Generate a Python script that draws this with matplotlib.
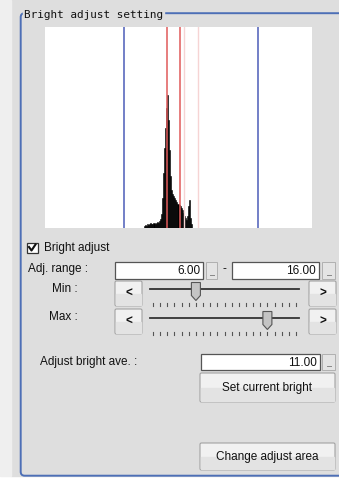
import matplotlib
matplotlib.use("Agg")
import matplotlib.pyplot as plt
from matplotlib.patches import Rectangle, FancyBboxPatch, Polygon

# histogram of brightness (0..255), bins 95..140
hist_start = 95
hist_counts = [2, 3, 2, 4, 3, 4, 5, 4, 4, 5, 4, 5, 6, 5, 7, 9, 14, 30, 55, 80,
               100, 120, 133, 108, 78, 52, 38, 34, 32, 30, 28, 26, 24, 23, 22, 20,
               18, 15, 12, 10, 8, 12, 22, 28, 10, 4]
blue_lines = [76, 204.5]
red_lines = [116.7, 129.4]
pink_lines = [133.6, 146.4]

title = "Bright adjust setting"
adj_min, adj_max = "6.00", "16.00"
bright_ave = "11.00"
slider_range = (0, 20)
slider_min, slider_max = 6, 16

W, H = 339, 478
BG = "#dedede"
BORDER = "#4d6fb6"
font = "Liberation Sans"
FS = 8.5

fig = plt.figure(figsize=(W / 100, H / 100), dpi=100)
fig.patch.set_facecolor("white")
ax = fig.add_axes([0, 0, 1, 1])
ax.set_xlim(0, W)
ax.set_ylim(H, 0)
ax.axis("off")

ax.add_patch(Rectangle((11, 0), W - 11, 476, color=BG, zorder=0))
ax.add_patch(Rectangle((0, 0), 11, 476, color="#efefef", zorder=0))

# group box
ax.add_patch(FancyBboxPatch((20.7, 13.2), 340, 462.5, boxstyle="round,pad=0,rounding_size=4",
                            fill=False, ec=BORDER, lw=1.4, zorder=1))
ax.add_patch(Rectangle((23, 5), 141, 14, color=BG, zorder=2))
ax.text(24.5, 14.5, title, family="DejaVu Sans Mono", fontsize=7.9, va="center",
        ha="left", color="#111111", zorder=3)


def button(x0, y0, x1, y1, label=None, size=FS, bold=False):
    ax.add_patch(FancyBboxPatch((x0, y0), x1 - x0, y1 - y0,
                                boxstyle="round,pad=0,rounding_size=1.5",
                                fc="#f1f1f1", ec="#a2a2a2", lw=0.8, zorder=2))
    ax.add_patch(Rectangle((x0 + 1, y0 + (y1 - y0) * 0.5), x1 - x0 - 2, (y1 - y0) * 0.5 - 1,
                           color="#e3e3e3", zorder=2))
    if label:
        ax.text((x0 + x1) / 2, (y0 + y1) / 2 + 0.5, label, family=font, fontsize=size,
                ha="center", va="center", color="#111111",
                fontweight="bold" if bold else "normal", zorder=3)


def textbox(x0, y0, x1, y1, value):
    ax.add_patch(Rectangle((x0, y0), x1 - x0, y1 - y0, fc="white", ec="#555555",
                           lw=0.9, zorder=2))
    ax.text(x1 - 3, (y0 + y1) / 2 + 0.5, value, family=font, fontsize=FS,
            ha="right", va="center", color="#111111", zorder=3)


def dots(x0, y0, x1, y1):
    ax.add_patch(Rectangle((x0, y0), x1 - x0, y1 - y0, fc="#e4e4e4", ec="#b0b0b0",
                           lw=0.7, zorder=2))
    ax.plot([(x0 + x1) / 2 - 2, (x0 + x1) / 2 + 2], [y1 - 4, y1 - 4], color="#888888",
            lw=0.7, zorder=3)


def slider(yline, value):
    x0, x1 = 153, 296
    ax.plot([150, 299], [yline, yline], color="#333333", lw=1.3, zorder=2)
    lo, hi = slider_range
    for v in range(lo, hi + 1):
        tx = x0 + (v - lo) / (hi - lo) * (x1 - x0)
        ax.plot([tx, tx], [yline + 14, yline + 17], color="#555555", lw=0.8, zorder=2)
    tx = x0 + (value - lo) / (hi - lo) * (x1 - x0)
    thumb = [(tx - 4.5, yline - 6), (tx + 4.5, yline - 6), (tx + 4.5, yline + 7),
             (tx, yline + 12), (tx - 4.5, yline + 7)]
    ax.add_patch(Polygon(thumb, closed=True, fc="#c4c4c4", ec="#555555", lw=0.8, zorder=3))


# histogram panel
hax = fig.add_axes([45 / W, 1 - 228 / H, (312 - 45) / W, (228 - 27) / H])
hax.set_facecolor("white")
hax.bar([hist_start + i for i in range(len(hist_counts))], hist_counts, width=1.0,
        align="edge", color="black", ec="black", lw=0.4)
for x in pink_lines:
    hax.axvline(x, color="#f6d4d4", lw=1.0)
for x in red_lines:
    hax.axvline(x, color="#e05a5a", lw=1.1)
for x in blue_lines:
    hax.axvline(x, color="#4b5db8", lw=1.1)
hax.set_xlim(0, 256)
hax.set_ylim(0, 201)
hax.set_xticks([])
hax.set_yticks([])
for s in hax.spines.values():
    s.set_visible(False)

# checkbox
ax.add_patch(Rectangle((27, 242.5), 10.5, 10, fc="white", ec="#333333", lw=0.9, zorder=2))
ax.plot([29, 31.5, 35.5], [247, 250.5, 244.5], color="#111111", lw=1.5, zorder=3)
ax.text(43.5, 248, "Bright adjust", family=font, fontsize=FS, va="center", color="#111111")

ax.text(28, 269, "Adj. range :", family=font, fontsize=FS, va="center", color="#111111")
textbox(115, 262, 203, 279, adj_min)
dots(206, 262, 217, 279)
ax.text(224, 269.5, "-", family=font, fontsize=FS, va="center", ha="center", color="#111111")
textbox(232, 262, 319, 279, adj_max)
dots(322, 262, 335, 279)

ax.text(51.5, 288.5, "Min :", family=font, fontsize=FS, va="center", color="#111111")
button(115, 281, 142, 306, "<", bold=True)
button(309, 281, 336, 306, ">", bold=True)
slider(288.5, slider_min)

ax.text(49, 317, "Max :", family=font, fontsize=FS, va="center", color="#111111")
button(115, 309, 142, 334, "<", bold=True)
button(309, 309, 336, 334, ">", bold=True)
slider(317.5, slider_max)

ax.text(40, 362, "Adjust bright ave. :", family=font, fontsize=FS, va="center", color="#111111")
textbox(200.5, 354, 320, 370, bright_ave)
dots(322, 354, 335, 370)
button(200, 373, 335, 402, "Set current bright")
button(200, 443, 335, 470, "Change adjust area")

fig.savefig("out.png", dpi=100, facecolor=fig.get_facecolor())
